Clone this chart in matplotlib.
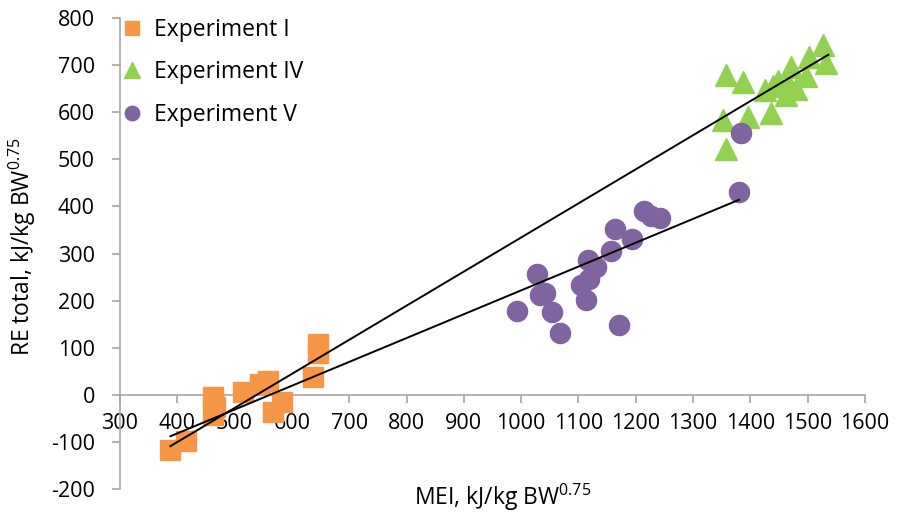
import matplotlib
matplotlib.use("Agg")
import matplotlib.pyplot as plt
from matplotlib import font_manager

plt.rcParams['font.family'] = ['Open Sans', 'DejaVu Sans']
plt.rcParams['mathtext.fontset'] = 'custom'
plt.rcParams['mathtext.rm'] = 'Open Sans'
plt.rcParams['mathtext.default'] = 'regular'
plt.rcParams['axes.unicode_minus'] = False

names = {f.name for f in font_manager.fontManager.ttflist}
narrow_ok = 'Liberation Sans Narrow' in names
tick_family = 'Liberation Sans Narrow' if narrow_ok else 'Open Sans'
tick_size = 19.5 if narrow_ok else 15.5

# Experiment I (orange squares)
exp1_x = [387, 416, 463, 465, 462, 514, 544, 558, 567, 582, 637, 645, 645]
exp1_y = [-117, -99, -5, -25, -42, 6, 22, 30, -36, -15, 38, 89, 108]

# Experiment IV (green triangles)
exp4_x = [1358, 1387, 1352, 1357, 1395, 1436, 1426, 1439, 1448, 1462, 1467, 1471, 1497, 1503, 1526, 1532, 1480]
exp4_y = [679, 665, 584, 522, 589, 599, 648, 656, 667, 637, 658, 697, 676, 718, 743, 704, 650]

# Experiment V (purple circles)
exp5_x = [993, 1028, 1033, 1041, 1053, 1068, 1114, 1105, 1118, 1117, 1130, 1156, 1163, 1193, 1215, 1227, 1243, 1171, 1381, 1383]
exp5_y = [177, 257, 212, 216, 175, 132, 202, 234, 246, 287, 271, 306, 352, 331, 391, 379, 375, 149, 430, 555]

# Trend lines (endpoints)
trend1_x = [388, 1536]
trend1_y = [-109, 722]
trend2_x = [388, 1380]
trend2_y = [-88, 414]

fig = plt.figure(figsize=(9.02, 5.16), dpi=100)
ax = fig.add_axes([120/902, 1-489/516, 745/902, 471/516])

orange = '#F79646'
green = '#92D050'
purple = '#8064A2'
gray = '#A6A6A6'

ms = 14.5
ax.plot(exp1_x, exp1_y, linestyle='none', marker='s', markersize=ms, color=orange, label='Experiment I', zorder=3)
ax.plot(exp4_x, exp4_y, linestyle='none', marker='^', markersize=ms+1, color=green, label='Experiment IV', zorder=3)
ax.plot(exp5_x, exp5_y, linestyle='none', marker='o', markersize=ms, color=purple, label='Experiment V', zorder=3)
ax.plot(trend1_x, trend1_y, color='black', linewidth=1.4, zorder=4)
ax.plot(trend2_x, trend2_y, color='black', linewidth=1.4, zorder=4)

ax.set_xlim(300, 1600)
ax.set_ylim(-200, 800)
ax.set_xticks(range(300, 1601, 100))
ax.set_yticks(range(-200, 801, 100))

for s in ['top', 'right']:
    ax.spines[s].set_visible(False)
ax.spines['bottom'].set_position(('data', 0))
ax.spines['bottom'].set_color(gray)
ax.spines['left'].set_color(gray)
ax.spines['bottom'].set_linewidth(1.2)
ax.spines['left'].set_linewidth(1.2)
ax.tick_params(axis='both', colors=gray, labelcolor='black', length=6, width=1.2, direction='out')
ax.tick_params(axis='x', pad=7)
ax.tick_params(axis='y', pad=12)
for lab in ax.get_xticklabels() + ax.get_yticklabels():
    lab.set_family([tick_family, 'DejaVu Sans'])
    lab.set_fontsize(tick_size)

fig.text(503/902, 1-497/516, 'MEI, kJ/kg BW$^{0.75}$', ha='center', va='center', fontsize=16.5)
fig.text(22/902, 1-247/516, 'RE total, kJ/kg BW$^{0.75}$', ha='center', va='center', rotation=90, fontsize=16.5)

leg = ax.legend(loc='upper left', bbox_to_anchor=(-0.024, 1.035), frameon=False, fontsize=16.5,
                markerscale=0.72, handletextpad=0.35, labelspacing=0.82, handlelength=1.2, borderaxespad=0.3)

fig.savefig('out.png', dpi=100)
